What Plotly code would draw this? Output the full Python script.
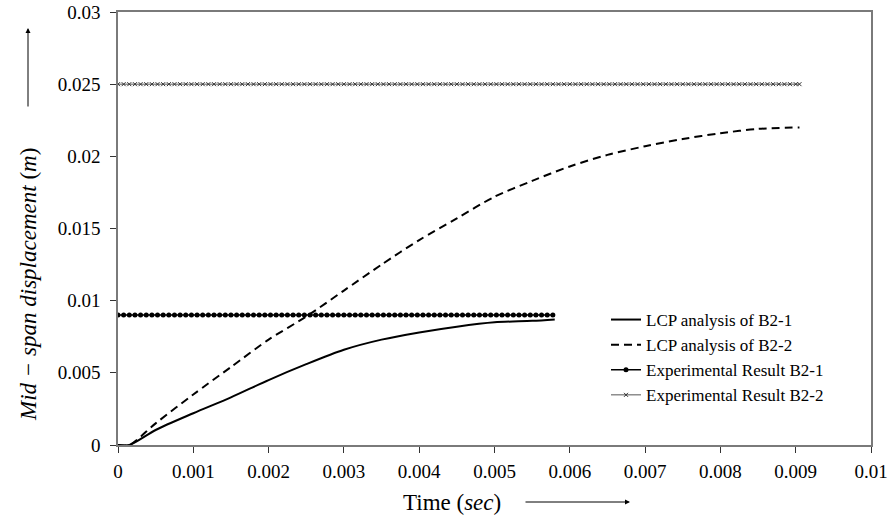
import plotly.graph_objects as go

# LCP analysis curves (time in s, mid-span displacement in m)
t_lcp_b21 = [0, 0.00015, 0.0005, 0.001, 0.0015, 0.002, 0.0025, 0.003, 0.0035,
             0.004, 0.0045, 0.005, 0.0055, 0.0058]
y_lcp_b21 = [0, 0.0, 0.00104, 0.0022, 0.0033, 0.0045, 0.0056, 0.0066, 0.0073,
             0.0078, 0.0082, 0.0085, 0.0086, 0.0087]

t_lcp_b22 = [0, 0.00015, 0.0005, 0.001, 0.0015, 0.002, 0.0025, 0.003, 0.0035,
             0.004, 0.0045, 0.005, 0.0055, 0.006, 0.0065, 0.007, 0.0075, 0.008,
             0.0085, 0.00905]
y_lcp_b22 = [0, 0.0, 0.0015, 0.0035, 0.0054, 0.0073, 0.0089, 0.0107, 0.0125,
             0.0142, 0.0157, 0.0172, 0.0183, 0.0193, 0.0201, 0.0207, 0.0212,
             0.0216, 0.0219, 0.0220]

# Experimental results: constant peak displacement sampled at a fixed step
exp_step = 0.000075
exp_b21_end, exp_b21_value = 0.0058, 0.009
exp_b22_end, exp_b22_value = 0.00905, 0.025

n21 = int(round(exp_b21_end / exp_step)) + 1
n22 = int(round(exp_b22_end / exp_step)) + 1
t_exp_b21 = [min(i * exp_step, exp_b21_end) for i in range(n21)]
y_exp_b21 = [exp_b21_value] * n21
t_exp_b22 = [min(i * exp_step, exp_b22_end) for i in range(n22)]
y_exp_b22 = [exp_b22_value] * n22

x_ticks = [0, 0.001, 0.002, 0.003, 0.004, 0.005, 0.006, 0.007, 0.008, 0.009, 0.01]
y_ticks = [0, 0.005, 0.01, 0.015, 0.02, 0.025, 0.03]

serif = "Liberation Serif"

# plot-area geometry in pixels (used to place the axis titles and arrows)
L, R, T, B = 118, 871, 12, 445
PW, PH = R - L, B - T


def px(x):
    return (x - L) / PW


def py(y):
    return (B - y) / PH


fig = go.Figure()
fig.add_trace(go.Scatter(x=t_lcp_b21, y=y_lcp_b21, mode="lines",
                         name="LCP analysis of B2-1",
                         line=dict(color="black", width=2, shape="spline",
                                   smoothing=0.8)))
fig.add_trace(go.Scatter(x=t_lcp_b22, y=y_lcp_b22, mode="lines",
                         name="LCP analysis of B2-2",
                         line=dict(color="black", width=2, dash="8px,5px",
                                   shape="spline", smoothing=0.8)))
fig.add_trace(go.Scatter(x=t_exp_b21, y=y_exp_b21, mode="lines+markers",
                         name="Experimental Result B2-1",
                         line=dict(color="black", width=1.5),
                         marker=dict(symbol="circle", size=5, color="black")))
fig.add_trace(go.Scatter(x=t_exp_b22, y=y_exp_b22, mode="lines+markers",
                         name="Experimental Result B2-2",
                         line=dict(color="#555555", width=1),
                         marker=dict(symbol="x-thin", size=4,
                                     line=dict(color="#333333", width=1))))

axis_common = dict(showgrid=False, zeroline=False, showline=True,
                   linecolor="#7a7a7a", linewidth=1.5, mirror=True,
                   ticks="outside", ticklen=6, tickcolor="#333333", tickwidth=1,
                   automargin=False,
                   tickfont=dict(family=serif, size=19, color="black"))

fig.update_xaxes(range=[0, 0.01], tickvals=x_ticks,
                 ticktext=[f"{v:g}" for v in x_ticks], ticklabelstandoff=2,
                 **axis_common)
fig.update_yaxes(range=[0, 0.03], tickvals=y_ticks,
                 ticktext=[f"{v:g}" for v in y_ticks], ticklabelstandoff=6,
                 **axis_common)

fig.update_layout(
    width=890, height=521,
    margin=dict(l=L, r=890 - R, t=T, b=521 - B),
    paper_bgcolor="white", plot_bgcolor="white",
    font=dict(family=serif, color="black"),
    showlegend=True,
    legend=dict(x=px(606), y=py(302), xanchor="left", yanchor="top",
                bgcolor="rgba(0,0,0,0)", borderwidth=0,
                font=dict(family=serif, size=17, color="black"),
                itemwidth=30, tracegroupgap=0),
    annotations=[
        dict(text="Time (<i>sec</i>)", xref="paper", yref="paper",
             x=px(452), y=py(502),
             xanchor="center", yanchor="middle", showarrow=False,
             font=dict(family=serif, size=23, color="black")),
        dict(text="", xref="paper", yref="paper",
             x=px(630), y=py(502),
             ax=-106, ay=0, axref="pixel", ayref="pixel",
             showarrow=True, arrowhead=2, arrowsize=1, arrowwidth=1,
             arrowcolor="black"),
        dict(text="<i>Mid − span displacement</i> (<i>m</i>)", xref="paper",
             yref="paper", x=px(28), y=py(285),
             xanchor="center", yanchor="middle", textangle=-90,
             showarrow=False,
             font=dict(family=serif, size=23, color="black")),
        dict(text="", xref="paper", yref="paper",
             x=px(28), y=py(28),
             ax=0, ay=80, axref="pixel", ayref="pixel",
             showarrow=True, arrowhead=2, arrowsize=1, arrowwidth=1,
             arrowcolor="black"),
    ],
)

fig.write_html("out.html")
